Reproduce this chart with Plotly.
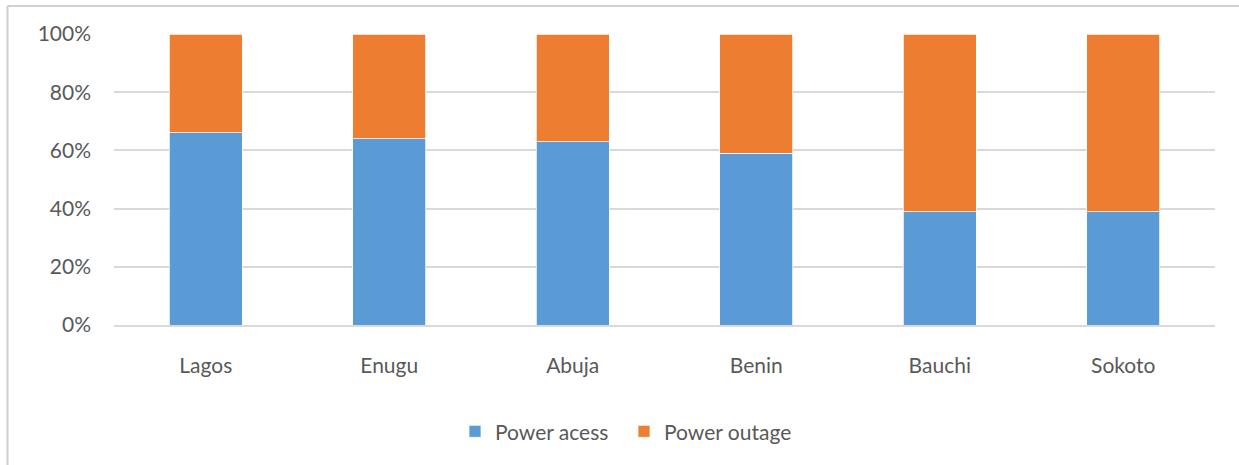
import plotly.graph_objects as go

cities = ["Lagos", "Enugu", "Abuja", "Benin", "Bauchi", "Sokoto"]
power_access = [66, 64, 63, 59, 39, 39]
power_outage = [34, 36, 37, 41, 61, 61]
y_ticks = [0, 20, 40, 60, 80, 100]
y_tick_labels = ["0%", "20%", "40%", "60%", "80%", "100%"]

font_family = "Lato, 'Open Sans', sans-serif"
text_color = "#595959"

W, H = 1239, 465
plot_l, plot_r, plot_t, plot_b = 114, 1215, 33.5, 325.5
pw, ph = plot_r - plot_l, plot_b - plot_t

fig = go.Figure()
fig.add_trace(go.Bar(x=cities, y=power_access, name="Power acess",
                     marker=dict(color="#5B9BD5", line=dict(color="white", width=0.75))))
fig.add_trace(go.Bar(x=cities, y=power_outage, name="Power outage",
                     marker=dict(color="#ED7D31", line=dict(color="white", width=0.75))))

fig.update_layout(
    barmode="stack",
    bargap=0.6,
    width=W, height=H,
    margin=dict(l=plot_l, r=W - plot_r, t=plot_t, b=H - plot_b, pad=0,
                autoexpand=False),
    paper_bgcolor="white", plot_bgcolor="white",
    font=dict(family=font_family, size=21, color=text_color),
    legend=dict(orientation="h", traceorder="normal",
                x=(455 - plot_l) / pw, xanchor="left",
                y=(plot_b - 412) / ph, yanchor="top",
                font=dict(size=21, color=text_color), itemwidth=30,
                entrywidth=124, entrywidthmode="pixels"),
    showlegend=True,
)
fig.update_yaxes(range=[0, 100], tickvals=y_ticks, ticktext=y_tick_labels,
                 showgrid=True, gridcolor="#d9d9d9", gridwidth=1.5,
                 zeroline=False, showline=False, ticklabelstandoff=22,
                 fixedrange=True, automargin=False)
fig.update_xaxes(showline=True, linecolor="#d9d9d9", linewidth=1.5,
                 ticks="", ticklabelstandoff=21, showgrid=False,
                 automargin=False)

# outer chart border (left and top edges visible)
bx = (7.5 - plot_l) / pw
by = (plot_b - 5.5) / ph
fig.add_shape(type="line", xref="paper", yref="paper", x0=bx, x1=1.2, y0=by, y1=by,
              line=dict(color="#d0d0d0", width=2))
fig.add_shape(type="line", xref="paper", yref="paper", x0=bx, x1=bx, y0=-0.8, y1=by,
              line=dict(color="#d0d0d0", width=2))

fig.write_html("out.html", config={"displayModeBar": False},
               post_script="document.body.style.margin='0';document.body.style.padding='0';")
